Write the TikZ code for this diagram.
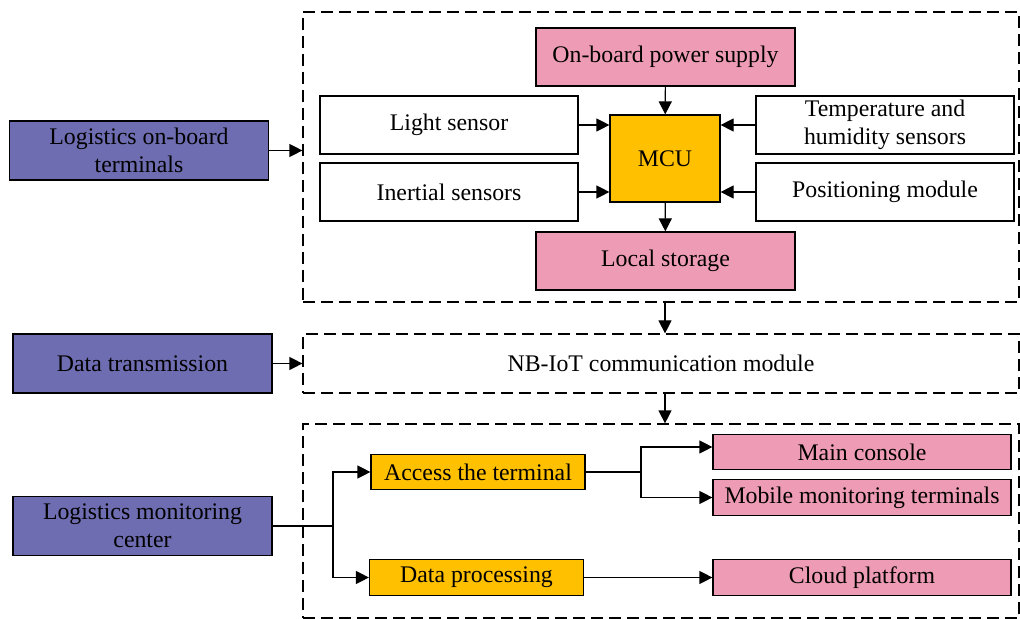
\documentclass[tikz,border=0pt]{standalone}
\usepackage{fontspec}
\setmainfont{Liberation Serif}
\usepackage{tikz}
\usepackage{xcolor}
\usetikzlibrary{arrows.meta}

\definecolor{layerblue}{RGB}{111,109,177}
\definecolor{partpink}{RGB}{238,156,181}
\definecolor{partgold}{RGB}{255,192,0}

\begin{document}
\begin{tikzpicture}[x=0.5pt,y=-0.5pt,
  font=\fontsize{11.9}{14}\selectfont,
  box/.style={draw,line width=0.6pt,inner sep=0pt,align=center},
  layer/.style={box,fill=layerblue,minimum width=129.5pt,minimum height=29.5pt},
  sensor/.style={box,fill=white,minimum width=129pt,minimum height=29pt},
  pinkbox/.style={box,fill=partpink,minimum width=129.5pt,minimum height=29pt},
  slimpink/.style={box,fill=partpink,minimum width=149pt,minimum height=17.75pt},
  goldbox/.style={box,fill=partgold,minimum width=107pt,minimum height=17.75pt},
  group/.style={draw,line width=0.6pt,dash pattern=on 6pt off 3pt,inner sep=0pt,align=center},
  flow/.style={line width=0.6pt,-{Triangle[length=6.5pt,width=6.5pt]}},
  wire/.style={line width=0.6pt}]
\useasboundingbox (0,0) rectangle (1020,619);

% left column
\node[layer] (onboard) at (139,150.5) {Logistics on-board\\terminals};
\node[layer] (transfer) at (142.5,363.5) {Data transmission};
\node[layer] (center) at (142.5,526) {Logistics monitoring\\center};

% dashed groups
\node[group,minimum width=358pt,minimum height=145pt] (terminal) at (661,157) {};
\node[group,minimum width=358pt,minimum height=29.5pt] (nbiot) at (661,363.5) {NB-IoT communication module};
\node[group,minimum width=358pt,minimum height=97pt] (monitor) at (661,521) {};

% terminal parts
\node[pinkbox] (power) at (665.5,57) {On-board power supply};
\node[box,fill=partgold,minimum width=55pt,minimum height=43.5pt] (mcu) at (665,158.5) {MCU};
\node[pinkbox] (storage) at (665.5,261) {Local storage};
\node[sensor] (light) at (449,125) {Light sensor};
\node[sensor] (inertial) at (449,192) {Inertial sensors};
\node[sensor] (temp) at (885,125) {Temperature and\\humidity sensors};
\node[sensor] (position) at (885,192) {Positioning module};

% monitoring parts
\node[goldbox] (access) at (478,472) {Access the terminal};
\node[goldbox] (process) at (476.5,577.5) {Data processing};
\node[slimpink] (console) at (862,452) {Main console};
\node[slimpink] (mobile) at (862,497.5) {Mobile monitoring terminals};
\node[slimpink] (cloud) at (862,577.5) {Cloud platform};

\coordinate (split) at (333,526);
\coordinate (branch) at (641,472);

% connectors
\draw[flow] (onboard.east) -- (onboard.east -| terminal.west);
\draw[flow] (transfer.east) -- (transfer.east -| nbiot.west);
\draw[flow] (power) -- (mcu);
\draw[flow] (mcu) -- (storage);
\draw[flow] (light.east) -- (light.east -| mcu.west);
\draw[flow] (inertial.east) -- (inertial.east -| mcu.west);
\draw[flow] (temp.west) -- (temp.west -| mcu.east);
\draw[flow] (position.west) -- (position.west -| mcu.east);
\draw[flow] (terminal.south -| mcu) -- (nbiot.north -| mcu);
\draw[flow] (nbiot.south -| mcu) -- (monitor.north -| mcu);
\draw[wire] (center.east) -- (split);
\draw[flow] (split) |- (access.west);
\draw[flow] (split) |- (process.west);
\draw[wire] (access.east) -- (branch);
\draw[flow] (branch) |- ([yshift=2.5pt]console.west);
\draw[flow] (branch) |- (mobile.west);
\draw[flow] (process.east) -- (cloud.west);
\end{tikzpicture}
\end{document}
